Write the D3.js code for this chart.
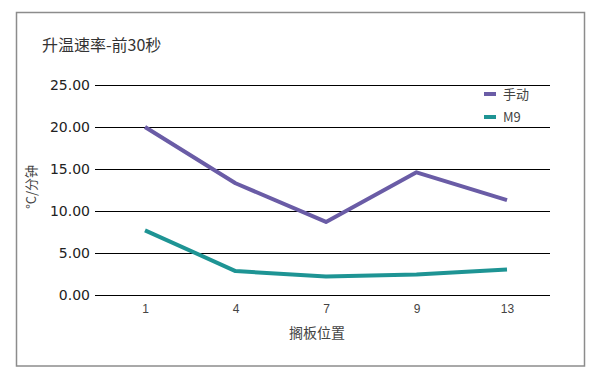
<!DOCTYPE html>
<html><head><meta charset="utf-8">
<script src="https://cdn.jsdelivr.net/npm/d3@7"></script>
<style>body{margin:0;background:#fff}svg{display:block}</style>
</head><body>
<script>
const categories = ["1","4","7","9","13"];
const seriesNames = ["手动","M9"];
const manualValues = [20.0, 13.3, 8.7, 14.6, 11.3];
const m9Values = [7.7, 2.85, 2.2, 2.45, 3.05];
const yTicks = [0,5,10,15,20,25];
const colors = ["#6a5ca6","#1e9494"];

const W=599,H=381;
const svg=d3.select("body").append("svg").attr("width",W).attr("height",H);
svg.append("rect").attr("x",16.5).attr("y",12.5).attr("width",568).attr("height",353.5)
  .attr("fill","#fff").attr("stroke","#8c8c8c").attr("stroke-width",1.5);

svg.append("text").attr("x",42).attr("y",51).text("升温速率-前30秒")
  .attr("font-family","'Noto Sans CJK SC'").attr("font-size",16).attr("fill","#333");

const x=d3.scalePoint().domain(categories).range([145,507]);
const y=d3.scaleLinear().domain([0,25]).range([295,85]);

const yAxis=svg.append("g").attr("transform","translate(95,0)")
  .call(d3.axisLeft(y).tickValues(yTicks).tickFormat(d3.format(".2f")).tickSize(-455).tickPadding(5));
yAxis.select(".domain").remove();
yAxis.selectAll(".tick line").attr("stroke","#000").attr("stroke-width",1.2);
yAxis.selectAll(".tick text").attr("font-family","'DejaVu Sans'").attr("font-size",14).attr("fill","#222");

const xAxis=svg.append("g").attr("transform","translate(0,295)")
  .call(d3.axisBottom(x).tickSize(0).tickPadding(9));
xAxis.select(".domain").remove();
xAxis.selectAll(".tick text").attr("font-family","'Liberation Sans'").attr("font-size",12).attr("fill","#444");

svg.append("text").attr("x",317).attr("y",338).attr("text-anchor","middle").text("搁板位置")
  .attr("font-family","'Noto Sans CJK SC'").attr("font-size",14).attr("fill","#444");

svg.append("text").attr("transform","translate(36,187) rotate(-90)").attr("text-anchor","middle").text("°C/分钟")
  .attr("font-family","'Noto Sans CJK SC'").attr("font-size",13).attr("fill","#444");

const line=d3.line().x((d,i)=>x(categories[i])).y(d=>y(d));
[manualValues,m9Values].forEach((vals,i)=>{
  svg.append("path").datum(vals).attr("d",line).attr("fill","none")
    .attr("stroke",colors[i]).attr("stroke-width",4).attr("stroke-linejoin","round");
});

const leg=svg.append("g");
seriesNames.forEach((n,i)=>{
  const yy=94+i*23;
  leg.append("rect").attr("x",484).attr("y",yy-2).attr("width",12).attr("height",4).attr("fill",colors[i]);
  leg.append("text").attr("x",503).attr("y",yy+5).text(n)
    .attr("font-family","'Noto Sans CJK SC'").attr("font-size",13).attr("fill","#444");
});
</script>
</body></html>
